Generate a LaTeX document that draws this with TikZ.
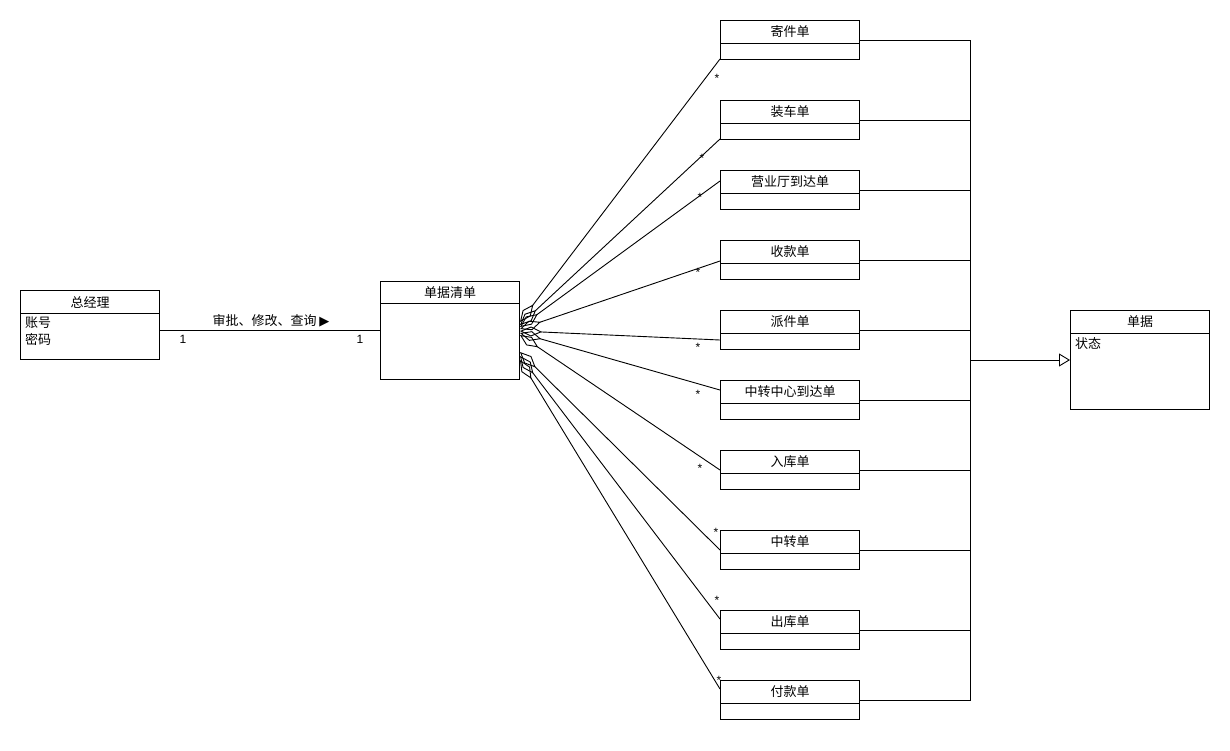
\documentclass[tikz,border=0pt]{standalone}
\usepackage{fontspec}
\setmainfont{Liberation Sans}
\newfontfamily\cjk{Noto Sans CJK SC}
\newfontfamily\symfont{DejaVu Sans}
\usetikzlibrary{arrows.meta,calc}

\tikzset{
  classbox/.style={draw, line width=1pt, minimum width=139pt, inner sep=0pt, anchor=north west},
  divider/.style={line width=1pt},
  ctitle/.style={font=\cjk\fontsize{13}{15}\selectfont, inner sep=0pt},
  cattr/.style={font=\cjk\fontsize{13}{15}\selectfont, inner sep=0pt, anchor=west},
  mult/.style={font=\fontsize{12}{14}\selectfont, inner sep=0pt},
  star/.style={font=\fontsize{12}{12}\selectfont, inner sep=0pt},
  link/.style={line width=0.9pt},
  part/.style={line width=0.9pt, {Diamond[open,length=22pt,width=10pt]}-},
  inherit/.style={line width=0.9pt, -{Triangle[open,length=11pt,width=13pt]}},
}

\begin{document}
\begin{tikzpicture}[x=1pt,y=-1pt]
  \useasboundingbox (0,0) rectangle (1230,750);
  \fill[white] (0,0) rectangle (1230,750);

  % general manager class
  \node[classbox, minimum height=69pt] (gm) at (20,290) {};
  \draw[divider] ($(gm.north west)+(0,23)$) -- ($(gm.north east)+(0,23)$);
  \node[ctitle] at ($(gm.north)+(0,12)$) {总经理};
  \node[cattr] at (25,323) {账号};
  \node[cattr] at (25,339) {密码};

  % document list class
  \node[classbox, minimum height=98pt] (qd) at (380,281) {};
  \draw[divider] ($(qd.north west)+(0,22)$) -- ($(qd.north east)+(0,22)$);
  \node[ctitle] at ($(qd.north)+(0,11.5)$) {单据清单};

  % base document class
  \node[classbox, minimum height=99pt] (dj) at (1070,310) {};
  \draw[divider] ($(dj.north west)+(0,23)$) -- ($(dj.north east)+(0,23)$);
  \node[ctitle] at ($(dj.north)+(0,12)$) {单据};
  \node[cattr] at (1075,344) {状态};

  % association manager -- list
  \coordinate (gmr) at ($(gm.north east)+(0,40)$);
  \coordinate (qdl) at ($(qd.north west)+(0,49)$);
  \draw[link] (gmr) -- (qdl);
  \node[ctitle] at (271,321) {审批、修改、查询 {\symfont\fontsize{13}{15}\selectfont ▶}};
  \node[mult] at (183,339) {1};
  \node[mult] at (360,339) {1};

  % generalization trunk
  \coordinate (tk1) at (970,40);
  \coordinate (tk2) at (970,700);
  \coordinate (tkm) at (970,360);
  \draw[link] (tk1) -- (tk2);
  \draw[inherit] (tkm) -- (dj.west);

  % concrete document classes
  \foreach \n/\t/\lab/\e/\s/\sx/\sy in {
      1/20/寄件单/39/41/717/78,
      2/100/装车单/39/44/702/158,
      3/170/营业厅到达单/11/46/700/197,
      4/240/收款单/21/48/698/272,
      5/310/派件单/30/50/698/347,
      6/380/中转中心到达单/10/52/698/394,
      7/450/入库单/20/54/700/468,
      8/530/中转单/20/71/716/532,
      9/610/出库单/9/75/717/600,
      10/680/付款单/9/79/719/680} {
    \node[classbox, minimum height=39pt] (r\n) at (720,\t) {};
    \draw[divider] ($(r\n.north west)+(0,23)$) -- ($(r\n.north east)+(0,23)$);
    \node[ctitle] at ($(r\n.north)+(0,12)$) {\lab};
    \coordinate (e\n) at ($(r\n.north west)+(0,\e)$);
    \coordinate (s\n) at ($(qd.north east)+(0,\s)$);
    \draw[part] (s\n) -- (e\n);
    \node[star] at (\sx,\sy) {*};
    \coordinate (g\n) at ($(r\n.north east)+(0,20)$);
    \coordinate (h\n) at ($(r\n.north east)+(111,20)$);
    \draw[link] (g\n) -- (h\n);
  }
\end{tikzpicture}
\end{document}
